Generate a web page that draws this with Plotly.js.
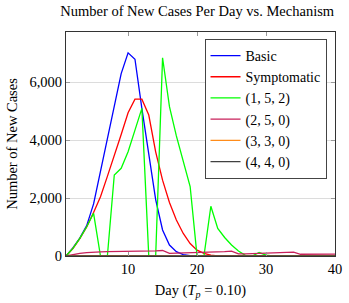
<!DOCTYPE html>
<html>
<head>
<meta charset="utf-8">
<script src="https://cdn.plot.ly/plotly-3.0.1.min.js"></script>
<style>html,body{margin:0;padding:0;background:#fff;}#chart{width:349px;height:303px;}</style>
</head>
<body>
<div id="chart"></div>
<script>
const days = [1,2,3,4,5,6,7,8,9,10,11,12,13,14,15,16,17,18,19,20,21,22,23,24,25,26,27,28,29,30,31,32,33,34,35,36,37,38,39,40];
const basic = [0,280,620,1050,1800,2900,4000,5200,6300,7020,6800,5100,3500,1950,900,380,150,50,15,0,0,0,0,0,0,0,0,0,0,0,0,0,0,0,0,0,0,0,0,0];
const symptomatic = [0,260,600,1000,1500,2050,2750,3450,4200,4950,5420,5420,4870,3600,2620,1850,1245,780,430,200,90,30,0,0,0,0,0,0,0,0,0,0,0,0,0,0,0,0,0,0];
const mech152 = [0,265,610,1010,1475,0,0,2800,3030,3600,4350,5100,0,0,6850,5160,4150,3250,2400,0,0,1720,950,640,380,170,20,0,120,30,0,0,0,0,0,0,0,0,0,0];
const mech250 = [0,50,90,120,140,145,150,150,155,160,160,165,170,175,190,90,100,105,110,110,120,130,140,150,170,70,75,80,90,100,105,110,120,135,60,60,60,65,65,65];
const mech330 = [0,10,12,14,15,15,16,16,17,17,18,18,18,18,18,10,8,6,5,4,3,2,1,0,0,0,0,0,0,0,0,0,0,0,0,0,0,0,0,0];
const mech440 = [0,0,0,0,0,0,0,0,0,0,0,0,0,0,0,0,0,0,0,0,0,0,0,0,0,0,0,0,0,0,0,0,0,0,0,0,0,0,0,0];
const seriesNames = ['Basic','Symptomatic','(1, 5, 2)','(2, 5, 0)','(3, 3, 0)','(4, 4, 0)'];
const xTicks = [10,20,30,40];
const yTicks = [0,2000,4000,6000];
const yTickText = ['0','2,000','4,000','6,000'];

const colors = ['#0000ff','#ff0000','#00ff00','#c8205a','#ff8c1a','#404040'];
const allY = [basic, symptomatic, mech152, mech250, mech330, mech440];
const FONT = 'Liberation Serif, Times New Roman, serif';

const traces = allY.map((y, i) => ({
  x: days, y: y, type: 'scatter', mode: 'lines', name: seriesNames[i],
  line: {color: colors[i], width: 1.3}
}));

const layout = {
  width: 349, height: 303,
  margin: {l: 66, r: 13.5, t: 32, b: 47},
  paper_bgcolor: '#fff', plot_bgcolor: '#fff',
  font: {family: FONT, size: 14, color: '#000'},
  title: {text: 'Number of New Cases Per Day vs. Mechanism', font: {family: FONT, size: 14.5}, x: 0.565, xanchor: 'center', y: 0.965, yanchor: 'middle'},
  xaxis: {
    range: [1, 40], tickvals: xTicks, ticktext: xTicks.map(String),
    showgrid: false, zeroline: false,
    showline: true, linecolor: '#333', linewidth: 1, mirror: 'ticks',
    ticks: 'inside', ticklen: 4, tickcolor: '#999',
    tickfont: {family: FONT, size: 14.5},
    title: {text: 'Day (<i>T<sub>p</sub></i> = 0.10)', font: {family: FONT, size: 14.5}, standoff: 8}
  },
  yaxis: {
    range: [0, 7740], tickvals: yTicks, ticktext: yTickText,
    showgrid: true, gridcolor: '#dcdcdc', gridwidth: 1, zeroline: false,
    showline: true, linecolor: '#333', linewidth: 1, mirror: 'ticks',
    ticks: 'inside', ticklen: 4, tickcolor: '#999',
    tickfont: {family: FONT, size: 14.5},
    title: {text: 'Number of New Cases', font: {family: FONT, size: 14.5}, standoff: 8}
  },
  showlegend: true,
  legend: {
    x: 0.9685, xanchor: 'right', y: 0.969, yanchor: 'top',
    bgcolor: '#fff', bordercolor: '#444', borderwidth: 1,
    font: {family: FONT, size: 14}, tracegroupgap: 0, itemwidth: 30
  }
};

Plotly.newPlot('chart', traces, layout, {displayModeBar: false, staticPlot: true});
</script>
</body>
</html>
